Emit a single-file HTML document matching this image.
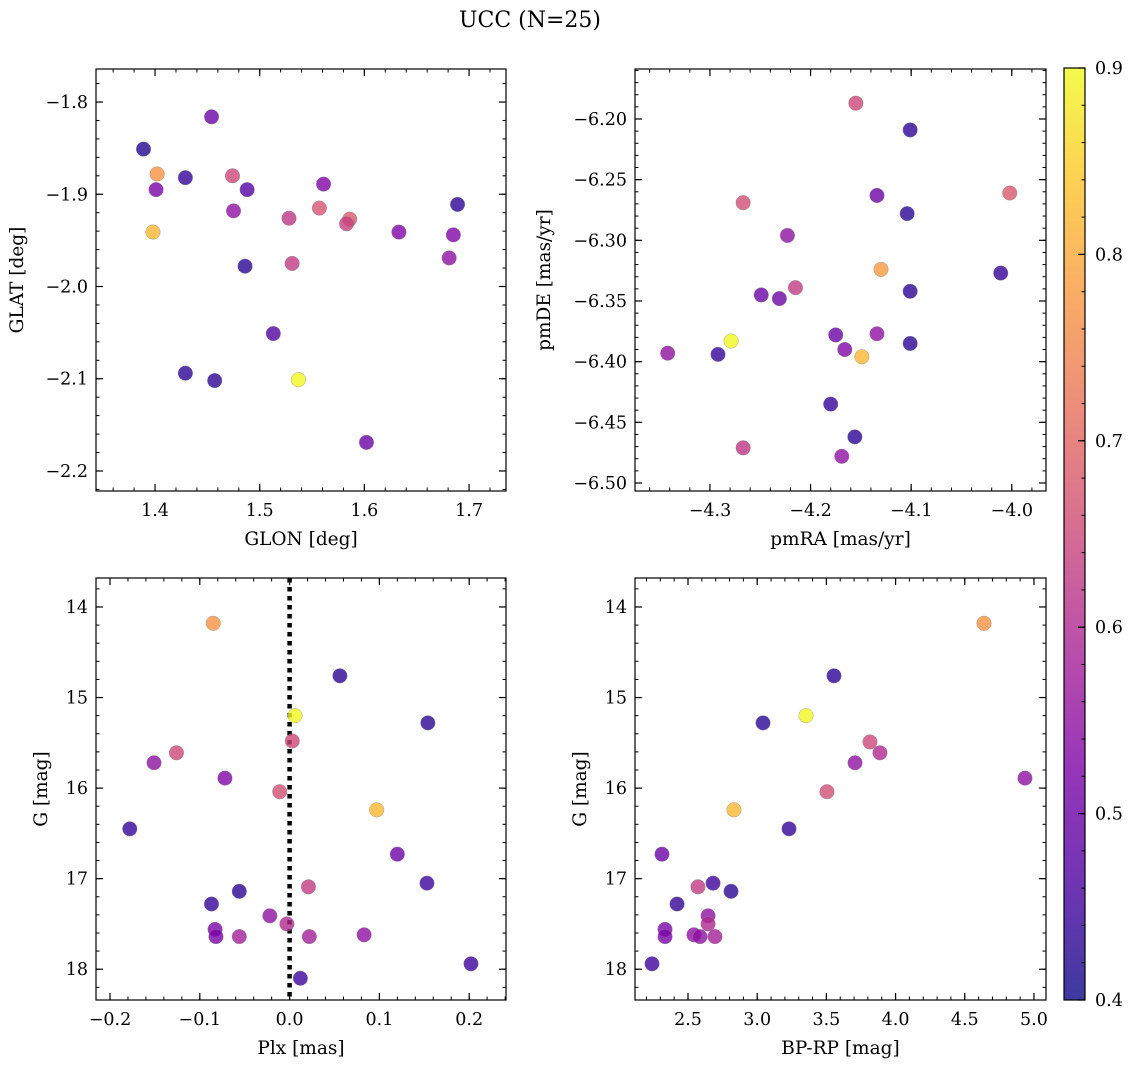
<!DOCTYPE html>
<html><head><meta charset="utf-8"><style>
html,body{margin:0;padding:0;background:#fff;}
svg{display:block;font-family:"DejaVu Serif","Liberation Serif",serif;}
</style></head><body>
<svg id="fig" width="1136" height="1068" viewBox="0 0 1136 1068" xmlns="http://www.w3.org/2000/svg">
<text x="530" y="27" font-size="22" text-anchor="middle">UCC (N=25)</text>
</svg>
<script>
// ---------- data ----------
const glon = [1.389,1.454,1.402,1.401,1.429,1.474,1.488,1.475,1.561,1.528,1.557,1.586,1.583,1.633,1.689,1.685,1.681,1.398,1.486,1.531,1.513,1.429,1.457,1.537,1.602];
const glat = [-1.851,-1.816,-1.878,-1.895,-1.882,-1.880,-1.895,-1.918,-1.889,-1.926,-1.915,-1.927,-1.932,-1.941,-1.911,-1.944,-1.969,-1.941,-1.978,-1.975,-2.051,-2.094,-2.102,-2.101,-2.169];
const probA = [.42,.5,.77,.52,.44,.65,.47,.55,.53,.62,.67,.68,.64,.53,.43,.53,.55,.82,.43,.63,.47,.43,.43,.9,.5];

const pmra = [-4.155,-4.101,-4.267,-4.002,-4.134,-4.104,-4.223,-4.130,-4.011,-4.249,-4.231,-4.215,-4.101,-4.175,-4.134,-4.166,-4.342,-4.292,-4.279,-4.149,-4.101,-4.180,-4.156,-4.267,-4.169];
const pmde = [-6.187,-6.209,-6.269,-6.261,-6.263,-6.278,-6.296,-6.324,-6.327,-6.345,-6.348,-6.339,-6.342,-6.378,-6.377,-6.390,-6.393,-6.394,-6.383,-6.396,-6.385,-6.435,-6.462,-6.471,-6.478];
const probB = [.65,.43,.66,.68,.5,.43,.55,.78,.44,.5,.5,.63,.43,.5,.55,.53,.55,.44,.9,.82,.43,.44,.43,.62,.55];

const plx = [-0.085,0.056,0.006,0.154,-0.126,0.003,-0.151,-0.072,-0.011,0.097,-0.178,0.120,0.153,0.021,-0.087,-0.056,-0.022,-0.083,-0.082,-0.056,-0.003,0.022,0.083,0.012,0.202];
const gmagC = [14.18,14.76,15.20,15.28,15.61,15.48,15.72,15.89,16.04,16.24,16.45,16.73,17.05,17.09,17.28,17.14,17.41,17.56,17.64,17.64,17.50,17.64,17.62,18.10,17.94];
const probC = [.77,.43,.9,.43,.65,.65,.55,.53,.66,.82,.44,.5,.45,.63,.44,.43,.55,.52,.52,.58,.6,.58,.55,.45,.45];

const bprp = [4.639,3.353,3.555,3.042,3.815,3.887,3.707,4.935,3.504,2.832,3.230,2.312,2.681,2.572,2.811,2.421,2.645,2.334,2.334,2.645,2.543,2.587,2.695,2.240];
const gmagD = [14.18,15.20,14.76,15.28,15.49,15.61,15.72,15.89,16.04,16.24,16.45,16.73,17.05,17.09,17.14,17.28,17.41,17.56,17.64,17.50,17.62,17.64,17.64,17.94];
const probD = [.77,.9,.43,.43,.65,.6,.55,.55,.66,.82,.44,.5,.45,.63,.43,.44,.55,.52,.52,.6,.55,.55,.58,.45];

const cbTicks = [0.4,0.5,0.6,0.7,0.8,0.9];
const plxLine = 0.0;

// ---------- helpers ----------
const NS="http://www.w3.org/2000/svg";
const svg=document.getElementById('fig');
function mk(tag,attrs,parent){const e=document.createElementNS(NS,tag);for(const k in attrs)e.setAttribute(k,attrs[k]);(parent||svg).appendChild(e);return e;}
const stops=[[0,[13,8,135]],[.125,[76,2,161]],[.25,[126,3,168]],[.375,[168,34,150]],[.5,[204,71,120]],[.625,[230,108,92]],[.75,[248,149,64]],[.875,[253,195,40]],[1,[240,249,33]]];
function plasma(t){t=Math.max(0,Math.min(1,t));for(let i=1;i<stops.length;i++){if(t<=stops[i][0]){const a=stops[i-1],b=stops[i];const f=(t-a[0])/(b[0]-a[0]);const c=a[1].map((v,j)=>Math.round(v+(b[1][j]-v)*f));return `rgb(${c[0]},${c[1]},${c[2]})`;}}return 'rgb(240,249,33)';}
const vmin=0.4,vmax=0.9;
const FS=17.5, LFS=18.5;
function fmt(v,d){let s=v.toFixed(d);if(s.startsWith('-'))s='\u2212'+s.slice(1);if(s==='\u22120.0')s='0.0';return s;}

function panel(o){
  const g=mk('g',{});
  
  
  const X=v=>o.L+(v-o.xl[0])/(o.xl[1]-o.xl[0])*(o.R-o.L);
  const Y=v=>o.T+(v-o.yl[0])/(o.yl[1]-o.yl[0])*(o.B-o.T);
  const eps=1e-9;
  function ticks(lo,hi,step){const a=[];const l=Math.min(lo,hi),h=Math.max(lo,hi);for(let v=Math.ceil(l/step-eps)*step;v<=h+eps;v+=step)a.push(v);return a;}
  ticks(o.xl[0],o.xl[1],o.xminor).forEach(v=>{const x=X(v);mk('line',{x1:x,x2:x,y1:o.B,y2:o.B-3.5,stroke:'#000','stroke-width':1},g);mk('line',{x1:x,x2:x,y1:o.T,y2:o.T+3.5,stroke:'#000','stroke-width':1},g);});
  ticks(o.yl[0],o.yl[1],o.yminor).forEach(v=>{const y=Y(v);mk('line',{x1:o.L,x2:o.L+3.5,y1:y,y2:y,stroke:'#000','stroke-width':1},g);mk('line',{x1:o.R,x2:o.R-3.5,y1:y,y2:y,stroke:'#000','stroke-width':1},g);});
  o.xmaj.forEach(v=>{const x=X(v);mk('line',{x1:x,x2:x,y1:o.B,y2:o.B-7,stroke:'#000','stroke-width':1.2},g);mk('line',{x1:x,x2:x,y1:o.T,y2:o.T+7,stroke:'#000','stroke-width':1.2},g);
    const t=mk('text',{x:x,y:o.B+25,'font-size':FS,'text-anchor':'middle'},g);t.textContent=fmt(v,o.xd);});
  o.ymaj.forEach(v=>{const y=Y(v);mk('line',{x1:o.L,x2:o.L+7,y1:y,y2:y,stroke:'#000','stroke-width':1.2},g);mk('line',{x1:o.R,x2:o.R-7,y1:y,y2:y,stroke:'#000','stroke-width':1.2},g);
    const t=mk('text',{x:o.L-8,y:y+6,'font-size':FS,'text-anchor':'end'},g);t.textContent=fmt(v,o.yd);});
  if(o.vline!==undefined){const x=X(o.vline);const l=mk('line',{x1:x,x2:x,y1:o.T,y2:o.B,stroke:'#000','stroke-width':4.5,'stroke-dasharray':'4.5 4.5'},g);}
  o.xs.forEach((xv,i)=>{
    const c=mk('circle',{cx:X(xv),cy:Y(o.ys[i]),r:7.3,fill:plasma((o.cs[i]-vmin)/(vmax-vmin)),'fill-opacity':0.8,stroke:'#888','stroke-width':0.5,'stroke-opacity':0.7},g);
    
    
  });
  mk('rect',{x:o.L,y:o.T,width:o.R-o.L,height:o.B-o.T,fill:'none',stroke:'#000','stroke-width':1.2},g);
  const xt=mk('text',{x:(o.L+o.R)/2,y:o.B+54,'font-size':LFS,'text-anchor':'middle'},g);xt.textContent=o.xlab;
  
  const cy=(o.T+o.B)/2;const yt=mk('text',{x:o.ylx,y:cy,'font-size':LFS,'text-anchor':'middle',transform:`rotate(-90 ${o.ylx} ${cy})`},g);yt.textContent=o.ylab;
  
}

panel({name:'glon-glat-panel',L:96,R:506,T:69,B:491,xl:[1.3436,1.7353],yl:[-1.7642,-2.2217],xmaj:[1.4,1.5,1.6,1.7],ymaj:[-1.8,-1.9,-2.0,-2.1,-2.2],xminor:0.02,yminor:0.02,xd:1,yd:1,xs:glon,ys:glat,cs:probA,xlab:'GLON [deg]',ylab:'GLAT [deg]',ylx:23});
panel({name:'pm-panel',L:635,R:1046,T:69,B:491,xl:[-4.3745,-3.966],yl:[-6.1588,-6.5066],xmaj:[-4.3,-4.2,-4.1,-4.0],ymaj:[-6.2,-6.25,-6.3,-6.35,-6.4,-6.45,-6.5],xminor:0.02,yminor:0.01,xd:1,yd:2,xs:pmra,ys:pmde,cs:probB,xlab:'pmRA [mas/yr]',ylab:'pmDE [mas/yr]',ylx:550});
panel({name:'plx-g-panel',L:96,R:506,T:578,B:1000,xl:[-0.2156,0.241],yl:[13.68,18.34],xmaj:[-0.2,-0.1,0,0.1,0.2],ymaj:[14,15,16,17,18],xminor:0.02,yminor:0.2,xd:1,yd:0,xs:plx,ys:gmagC,cs:probC,xlab:'Plx [mas]',ylab:'G [mag]',ylx:47,vline:plxLine});
panel({name:'cmd-panel',L:635,R:1046,T:578,B:1000,xl:[2.117,5.087],yl:[13.68,18.34],xmaj:[2.5,3,3.5,4,4.5,5],ymaj:[14,15,16,17,18],xminor:0.1,yminor:0.2,xd:1,yd:0,xs:bprp,ys:gmagD,cs:probD,xlab:'BP-RP [mag]',ylab:'G [mag]',ylx:586});

// colorbar
const cb=mk('g',{});


const defs=mk('defs',{},cb);
const lg=mk('linearGradient',{id:'cbg',x1:0,y1:1,x2:0,y2:0},defs);
stops.forEach(s=>mk('stop',{offset:s[0],'stop-color':`rgb(${s[1].join(',')})`,'stop-opacity':0.8},lg));
const cbL=1064,cbR=1085,cbT=68,cbB=1000;
mk('rect',{x:cbL,y:cbT,width:cbR-cbL,height:cbB-cbT,fill:'url(#cbg)',stroke:'#000','stroke-width':1.2},cb);
const CY=v=>cbB-(v-vmin)/(vmax-vmin)*(cbB-cbT);
for(let v=0.4;v<=0.9001;v+=0.02){const y=CY(v);mk('line',{x1:cbR,x2:cbR-3.5,y1:y,y2:y,stroke:'#000'},cb);}
cbTicks.forEach(v=>{const y=CY(v);mk('line',{x1:cbR,x2:cbR-7,y1:y,y2:y,stroke:'#000','stroke-width':1.2},cb);
  const t=mk('text',{x:cbR+10,y:y+6,'font-size':FS},cb);t.textContent=v.toFixed(1);
  });
</script>
</body></html>
